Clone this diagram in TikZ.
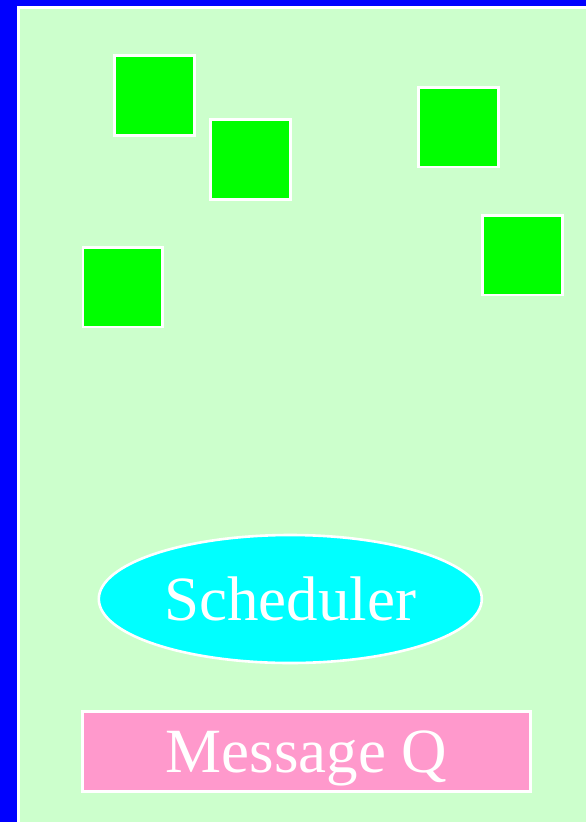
\documentclass[tikz,border=0pt]{standalone}
\usepackage{fontspec}
\setmainfont{Liberation Serif}
\usetikzlibrary{positioning,shapes.geometric}
\definecolor{tlo}{HTML}{0000FF}
\definecolor{pole}{HTML}{CCFFCC}
\definecolor{zielony}{HTML}{00FF00}
\definecolor{cyjan}{HTML}{00FFFF}
\definecolor{roz}{HTML}{FF99CC}
\tikzset{
  zadanie/.style  = {draw=white, line width=2.6pt, fill=zielony,
                     minimum size=79.5pt, inner sep=0pt},
  planista/.style = {ellipse, draw=white, line width=2.6pt, fill=cyjan,
                     minimum width=383pt, minimum height=128pt, inner sep=0pt,
                     text=white, font=\fontsize{63}{63}\selectfont},
  kolejka/.style  = {draw=white, line width=2.6pt, fill=roz,
                     minimum width=448pt, minimum height=80pt, inner sep=0pt,
                     text=white, text depth=0pt, font=\fontsize{63}{63}\selectfont},
}

\begin{document}
\begin{tikzpicture}[x=1pt, y=-1pt]
  \useasboundingbox (0,0) rectangle (586,822);
  \clip (0,0) rectangle (586,822);
  \fill[tlo] (0,0) rectangle (586,822);
  \draw[white, line width=3pt, fill=pole] (18.5,7.5) rectangle (620,860);

  \node[zadanie] (t1) at (154.5,95.5)  {};
  \node[zadanie] (t2) at (250.5,159.5) {};
  \node[zadanie] (t3) at (458.5,127.3) {};
  \node[zadanie] (t4) at (522.5,255.3) {};
  \node[zadanie] (t5) at (122.7,287.3) {};

  \node[planista] (sched) at (290.3,599) {Scheduler};
  \node[kolejka, below=46pt of sched, xshift=16.2pt] (mq) {Message Q};
\end{tikzpicture}
\end{document}
